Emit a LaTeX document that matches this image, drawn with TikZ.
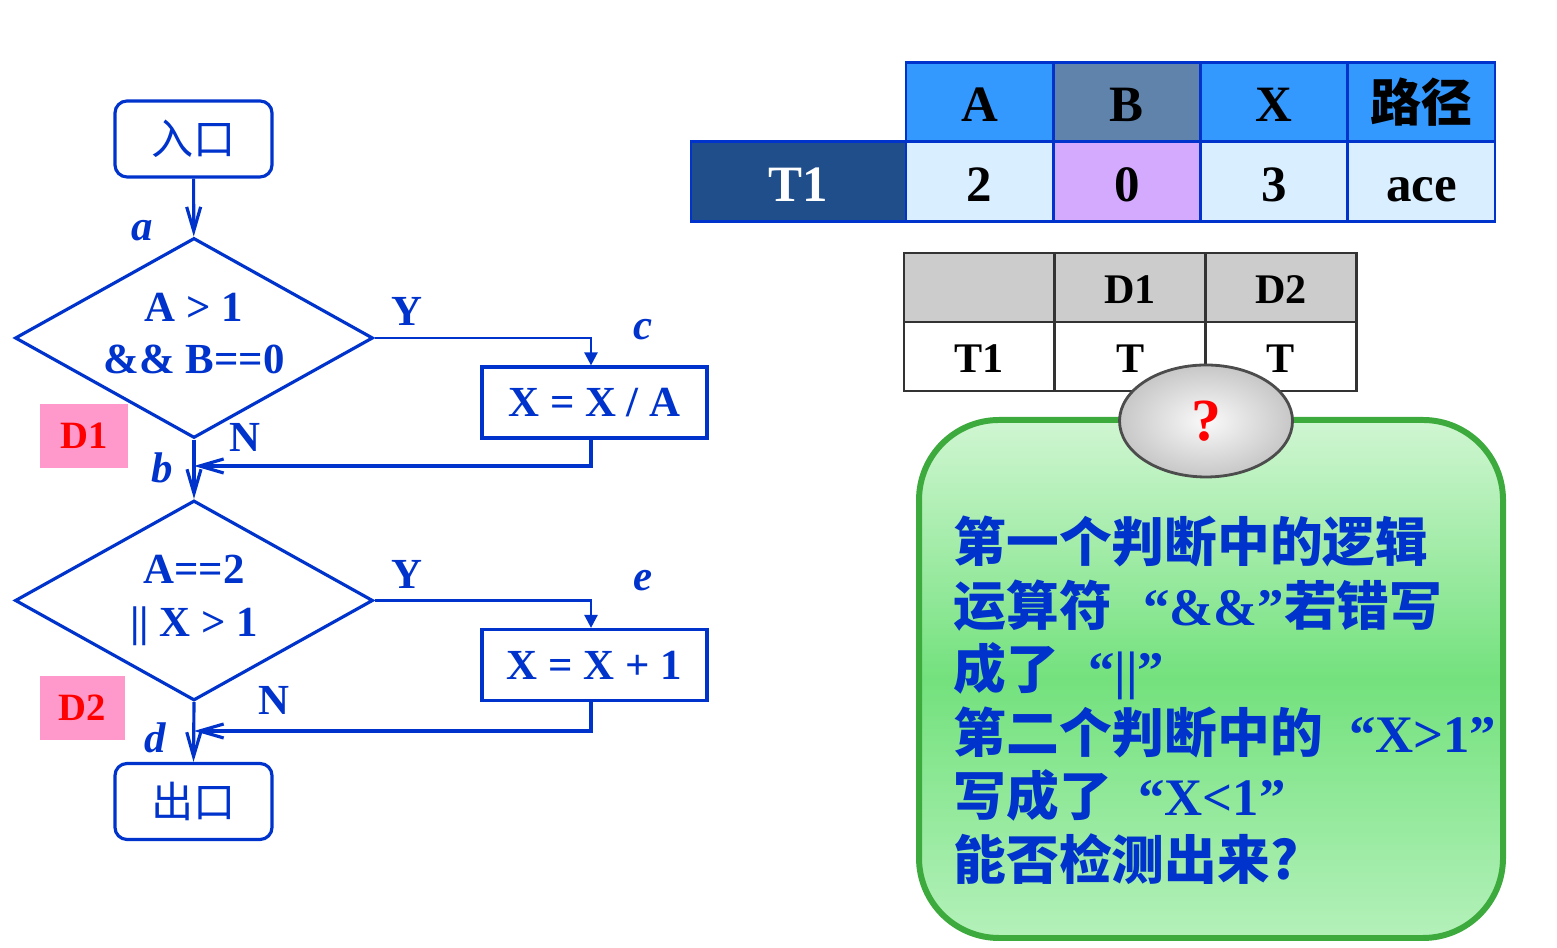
\documentclass[tikz,border=0pt]{standalone}
\usepackage{fontspec}
\usepackage{tikz}
\usetikzlibrary{shapes.geometric, arrows.meta, positioning, calc}
\setmainfont{Liberation Serif}
\newfontfamily\cjk{Noto Sans CJK SC}
\definecolor{cFlow}{RGB}{0,51,204}
\definecolor{cPink}{RGB}{255,153,204}
\definecolor{cRowHead}{RGB}{31,78,138}
\definecolor{cHead}{RGB}{51,153,255}
\definecolor{cHeadB}{RGB}{96,131,172}
\definecolor{cCell}{RGB}{217,238,255}
\definecolor{cCellB}{RGB}{212,170,255}
\definecolor{cGrey}{RGB}{204,204,204}
\definecolor{cNoteLine}{RGB}{60,170,60}
\definecolor{cNoteTop}{RGB}{208,246,210}
\definecolor{cNoteMid}{RGB}{115,225,125}
\definecolor{cNoteBot}{RGB}{180,241,186}
\tikzset{
	term/.style    ={rectangle, rounded corners=0.12cm, draw=cFlow, line width=0.9pt, minimum width=1.57cm, minimum height=0.76cm, text=cFlow, font=\cjk\mdseries\fontsize{12}{14}\selectfont},
	decision/.style={diamond, aspect=1.79, draw=cFlow, line width=0.9pt, minimum width=3.58cm, minimum height=2cm, inner sep=0pt, align=center, text=cFlow, font=\bfseries\fontsize{12.2}{15}\selectfont},
	process/.style ={rectangle, draw=cFlow, line width=0.9pt, minimum width=2.25cm, minimum height=0.71cm, text=cFlow, font=\bfseries\fontsize{12.2}{14}\selectfont},
	flowarrow/.style={cFlow, line width=0.9pt, -{Straight Barb[length=2.4mm, width=1.4mm]}},
	branch/.style  ={cFlow, line width=0.7pt, -{Triangle[length=1.3mm, width=1.3mm]}},
	tag/.style     ={rectangle, fill=cPink, minimum height=0.64cm, text=red, font=\bfseries\fontsize{11}{13}\selectfont},
	point/.style   ={text=cFlow, font=\bfseries\itshape\fontsize{12.2}{14}\selectfont},
	yn/.style      ={text=cFlow, font=\bfseries\fontsize{12.2}{14}\selectfont},
	% table styles
	cellA/.style   ={rectangle, draw=cFlow, line width=0.8pt, minimum width=1.4725cm, minimum height=0.795cm, text height=11.3pt, text depth=0pt, font=\bfseries\fontsize{14.5}{16}\selectfont},
	cellB/.style   ={rectangle, draw=black!80, line width=0.8pt, minimum width=1.507cm, minimum height=0.69cm, text height=9.3pt, text depth=0pt, font=\bfseries\fontsize{12}{14}\selectfont},
	note/.style    ={rectangle, rounded corners=0.8cm, draw=cNoteLine, line width=1.7pt, top color=cNoteTop, bottom color=cNoteBot, middle color=cNoteMid, minimum width=5.84cm, minimum height=5.18cm},
	bubble/.style  ={ellipse, draw=black!70, line width=0.8pt, inner color=black!2, outer color=black!22, minimum width=1.73cm, minimum height=1.12cm, inner sep=0pt, text=red, font=\bfseries\fontsize{17}{19}\selectfont},
	noteline/.style={anchor=base west, inner sep=0pt, text=cFlow, font=\bfseries\fontsize{15}{18}\selectfont},
}

\begin{document}
\begin{tikzpicture}
	\useasboundingbox (0,0) rectangle (15.57,9.48);
	% flow chart
	\node[term] (entry) at (1.935,8.09) {入口};
	\node[decision] (dOne) at (1.94,6.10) {A > 1\\ \&\& B==0\vphantom{||}};
	\node[process] (calcC) at (5.945,5.455) {X = X / A};
	\node[decision] (dTwo) at (1.94,3.475) {A==2\\ || X > 1};
	\node[process] (calcE) at (5.945,2.83) {X = X + 1};
	\node[term] (exit) at (1.935,1.465) {出口};
	\coordinate (jb) at (1.94,4.82);
	\coordinate (jd) at (1.94,2.17);
	\draw[flowarrow] (entry) -- (dOne);
	\draw[flowarrow] (dOne.south) -- (dTwo.north);
	\draw[flowarrow] (dTwo.south) -- (exit.north);
	\draw[branch] (dOne.east) -| ([xshift=-0.035cm]calcC.north);
	\draw[branch] (dTwo.east) -| ([xshift=-0.035cm]calcE.north);
	\draw[flowarrow] ([xshift=-0.035cm]calcC.south) |- (jb);
	\draw[flowarrow] ([xshift=-0.035cm]calcE.south) |- (jd);
	% labels
	\node[point] (ptA) at (1.42,7.17) {a};
	\node[point] (ptB) at (1.62,4.80) {b};
	\node[point] (ptC) at (6.43,6.18) {c};
	\node[point] (ptD) at (1.55,2.10) {d};
	\node[point] (ptE) at (6.43,3.67) {e};
	\node[yn] (yOne) at (4.07,6.37) {Y};
	\node[yn] (nOne) at (2.45,5.11) {N};
	\node[yn] (yTwo) at (4.07,3.74) {Y};
	\node[yn] (nTwo) at (2.74,2.48) {N};
	\node[tag, minimum width=0.88cm] (tagOne) at (0.84,5.12) {D1};
	\node[tag, minimum width=0.85cm] (tagTwo) at (0.825,2.40) {D2};
	% test case table
	\node[cellA, fill=cRowHead, text=white, minimum width=2.15cm] (rowT) at (7.985,7.665) {T1};
	\foreach \hd/\vl/\hc/\vc [count=\i] in {A/2/cHead/cCell, B/0/cHeadB/cCellB, X/3/cHead/cCell, {\cjk 路径}/ace/cHead/cCell} {
		\node[cellA, fill=\hc] (hd\i) at ({9.06+1.4725*(\i-0.5)},8.46) {\hd};
		\node[cellA, fill=\vc] (val\i) at ({9.06+1.4725*(\i-0.5)},7.665) {\vl};
	}
	% decision table
	\foreach \hd/\vl [count=\i] in {{}/T1, D1/T, D2/T} {
		\node[cellB, fill=cGrey] (dh\i) at ({9.04+1.507*(\i-0.5)},6.605) {\hd};
		\node[cellB, fill=white] (dv\i) at ({9.04+1.507*(\i-0.5)},5.915) {\vl};
	}
	% question box
	\node[note] (box) at (12.11,2.69) {};
	\foreach \txt [count=\k] in {
		{\cjk 第一个判断中的逻辑},
		{\cjk 运算符}\hspace{0.6em}“\&\&”{\cjk 若错写},
		{\cjk 成了}\hspace{0.55em}“||”,
		{\cjk 第二个判断中的}\hspace{0.5em}“X>1”,
		{\cjk 写成了}\hspace{0.5em}“X<1”,
		{\cjk 能否检测出来?}} {
		\node[noteline] (line\k) at (9.53,{3.86-0.635*(\k-1)}) {\txt};
	}
	\node[bubble] (qmark) at (12.06,5.27) {?};
\end{tikzpicture}
\end{document}
